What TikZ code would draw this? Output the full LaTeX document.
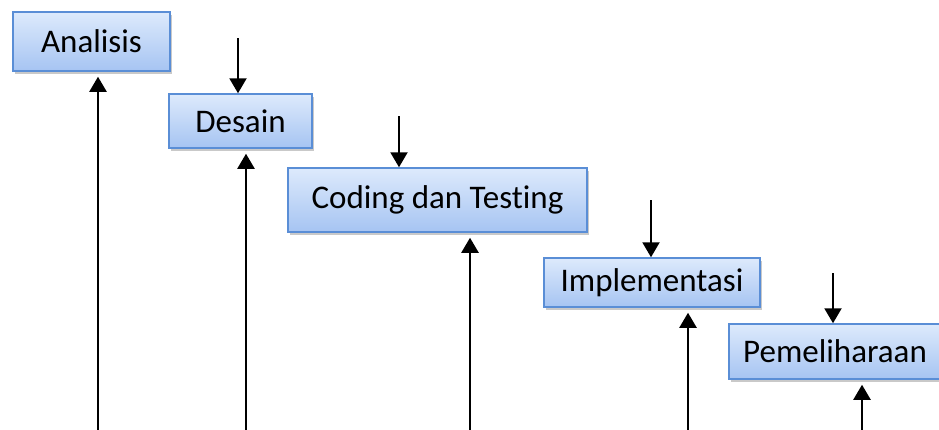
\documentclass[tikz,border=0pt]{standalone}
\usepackage{fontspec}
\setmainfont{Carlito}[Ligatures=NoCommon]
\usetikzlibrary{arrows.meta,shadows}
\definecolor{boxtop}{HTML}{DDEAFC}
\definecolor{boxbot}{HTML}{A6C4F2}
\definecolor{boxedge}{HTML}{5A8ED6}
\tikzset{
  phase/.style={rectangle, draw=boxedge, line width=1.5pt, top color=boxtop, bottom color=boxbot,
    inner sep=0pt, font=\fontsize{33}{39}\selectfont,
    drop shadow={shadow xshift=2pt, shadow yshift=-3pt, opacity=0.3, fill=black!70}},
  flow/.style={line width=2.2pt, -{Triangle[width=17pt,length=15pt]}},
}
\begin{document}
\begin{tikzpicture}[x=1pt,y=-1pt]
\useasboundingbox (0,0) rectangle (939,429);
\node[phase, minimum width=157pt, minimum height=59pt] (ana) at (91.5,41.5) {Analisis};
\node[phase, minimum width=143pt, minimum height=54pt] (des) at (240.5,121) {Desain};
\node[phase, minimum width=299pt, minimum height=64pt] (cod) at (437.5,200) {Coding dan Testing};
\node[phase, minimum width=216pt, minimum height=49pt] (imp) at (652,282.5) {Implementasi};
\node[phase, minimum width=212pt, minimum height=55pt] (pem) at (835,351.5) {Pemeliharaan};
% down arrows
\coordinate (dd) at (238,38);
\coordinate (dc) at (399,116);
\coordinate (di) at (651,200);
\coordinate (dp) at (833,273);
\draw[flow] (dd) -- (dd |- des.north);
\draw[flow] (dc) -- (dc |- cod.north);
\draw[flow] (di) -- (di |- imp.north);
\draw[flow] (dp) -- (dp |- pem.north);
% up arrows
\coordinate (ua) at (98,432);
\coordinate (ud) at (246,432);
\coordinate (uc) at (470,432);
\coordinate (ui) at (688,432);
\coordinate (up) at (862,432);
\draw[flow, shorten >=5pt] (ua) -- (ua |- ana.south);
\draw[flow, shorten >=5pt] (ud) -- (ud |- des.south);
\draw[flow, shorten >=5pt] (uc) -- (uc |- cod.south);
\draw[flow, shorten >=5pt] (ui) -- (ui |- imp.south);
\draw[flow, shorten >=5pt] (up) -- (up |- pem.south);
\end{tikzpicture}
\end{document}
